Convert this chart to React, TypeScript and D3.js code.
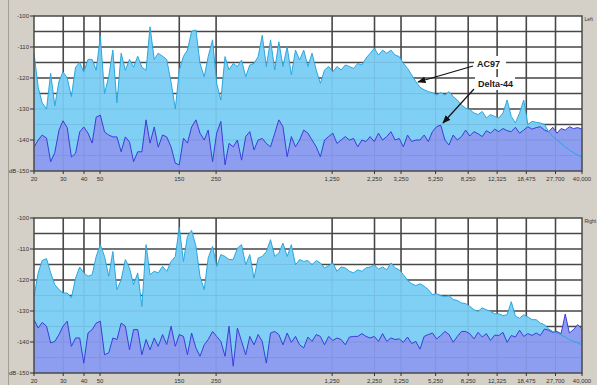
import React from 'react';
import * as d3 from 'd3';

const FREQS = [
  20, 21.2, 22.4, 23.8, 25.2, 26.7, 28.3, 29.9, 31.7, 33.6, 35.6, 37.7, 39.9, 42.3, 44.8, 47.4, 50.2, 53.2, 56.4, 59.7,
  63.2, 67.0, 71.0, 75.2, 79.6, 84.3, 89.3, 94.6, 100, 106, 112, 119, 126, 134, 142, 150, 159, 168, 178, 189,
  200, 212, 224, 238, 252, 267, 283, 299, 317, 336, 356, 377, 399, 423, 448, 474, 502, 532, 564, 597,
  632, 670, 710, 752, 796, 843, 893, 946, 1002, 1062, 1125, 1191, 1262, 1337, 1416, 1500, 1589, 1683, 1783, 1888,
  2000, 2119, 2244, 2377, 2518, 2667, 2825, 2993, 3170, 3358, 3557, 3768, 3991, 4228, 4479, 4744, 5024, 5323, 5638, 5972,
  6325, 6700, 7098, 7519, 7962, 8434, 8934, 9463, 10024, 10619, 11247, 11914, 12620, 13368, 14158, 14998, 15886, 16828, 17825, 18882,
  20000, 21185, 22441, 23771, 25179, 26671, 28251, 29926, 31698, 33577, 35567, 37677, 40000,
];

const TOP_AC97 = [
  -112, -123, -128, -130, -118.5, -129, -121, -118, -120, -126,
  -116.5, -115, -118, -114, -114, -117.5, -106.5, -125, -119.5, -111,
  -128, -112, -117.5, -114, -116.5, -113, -116.5, -117.5, -103.5, -114,
  -112, -113, -114, -121.5, -130, -117.5, -113, -111, -105, -104.5,
  -115.3, -119.6, -113.1, -107.7, -121.7, -127.1, -113.1, -117.4, -115.3, -116.3,
  -114.2, -119.6, -115.8, -115.3, -113.1, -106.2, -116.3, -107.7, -117.4, -108.3,
  -116.3, -109.9, -119, -111, -114.2, -111, -116.3, -112, -117.4, -121.7,
  -117.4, -116.3, -118, -116.3, -117.4, -115.8, -116.3, -116.9, -115.3, -115.8,
  -113.6, -112, -110.4, -112.6, -111, -112, -111, -112.6,
  -113.1, -115.3, -116.9, -119, -121.2, -123, -123.8, -124.4, -124.7, -125.5,
  -124.7, -125.5, -124.4, -126, -127.1, -128.7, -129.7, -130.2, -131.3, -131.8,
  -130.8, -132.9, -131.8, -132.4, -132.9, -131.3, -127.1, -132.4, -134.5, -131.3,
  -127.1, -135, -134, -134.3, -134.5, -135, -137.3, -138.9, -140, -141.1,
  -142.2, -143.2, -144.1, -144.8, -145.6,
];

const TOP_DELTA = [
  -142.3, -140, -138.4, -139.4, -147, -144, -136.8, -133.8, -136, -145.5,
  -144.3, -137.4, -135.8, -137.8, -141, -132.6, -132, -137.4, -138.4, -139,
  -139, -143.8, -139, -140.6, -147, -143.8, -143.8, -133.5, -141, -135.8,
  -142.3, -138.4, -139, -142.3, -147.5, -148, -139.4, -141, -135.8, -133.5,
  -137.8, -140, -136.8, -147, -137.8, -134, -148, -141.1, -142.2, -140,
  -146.5, -138.9, -137.3, -143.2, -140, -139.5, -141.1, -142.2, -137.8, -133.5,
  -135.7, -145.4, -138.9, -142.2, -140, -136.8, -137.8, -140, -142.2, -145.4,
  -140, -138.9, -137.8, -141.1, -140, -138.9, -140, -139.5, -142.2, -140,
  -140.5, -138.9, -140.5, -137.8, -140, -138.9, -137.3, -140,
  -139.5, -142.2, -138.4, -140.5, -140, -140, -138.4, -140.5, -137.3, -135.7,
  -135.2, -140, -141.6, -138.4, -140, -138.9, -136.8, -138.7, -137.3, -138,
  -138.9, -137, -137.8, -136.5, -137.3, -136.3, -137, -137.3, -135.9, -137.8,
  -136.8, -135.7, -136.5, -136, -135.7, -136.8, -137.3, -135.9, -137.8, -136.3,
  -136.8, -135.7, -136.3, -136, -136.5,
];

const BOT_AC97 = [
  -125.3, -117.7, -113.7, -113.1, -117.7, -121.5, -123.1, -124.2, -124.2, -125.8,
  -119.4, -115.8, -117.7, -118.8, -118.3, -112.4, -108.6, -112.4, -118.8, -110.8,
  -123.1, -119.9, -113.4, -116.1, -121.5, -117.7, -128.5, -108.6, -118.3, -117.2,
  -117.7, -115.6, -117.2, -114, -112.4, -103, -114, -105.9, -104, -109.1,
  -118.8, -123.1, -112.9, -109.1, -115.6, -111.8, -112.4, -113.4, -113.4, -109.7,
  -108.6, -115.1, -111.8, -119.4, -112.9, -112.4, -110.8, -107, -112.4, -111.3,
  -108.1, -112.4, -108.6, -115.1, -113.4, -114, -113.7, -115.1, -113.7, -114.5,
  -116.1, -115.4, -114.5, -117.2, -115.8, -116.1, -117.2, -117.7, -116.7, -117.2,
  -116.1, -115.8, -115.1, -116.5, -115.8, -116.7, -114.5, -116.1,
  -116.7, -118.3, -120.1, -121.2, -121.8, -121.2, -122, -123.1, -124.7, -124.4,
  -125.1, -125.3, -125.1, -126.3, -126.6, -127.4, -127.6, -128.5, -129.6, -130.1,
  -129, -129.6, -130.1, -130.9, -130.9, -131.5, -131.2, -127, -131.7, -132.3,
  -131.2, -131.9, -132.8, -132.8, -133.9, -134.4, -135.8, -136.6, -137.1, -137.7,
  -138.4, -139.2, -139.8, -140.3, -140.9,
];

const BOT_DELTA = [
  -132.8, -135.5, -133.7, -134.9, -140.3, -139.8, -137.6, -134.9, -133.3, -141.4,
  -138.7, -138.7, -146.8, -137.1, -136, -133.9, -133.3, -144.1, -143.5, -138.7,
  -139.2, -133.9, -134.9, -142.5, -136, -136, -144.1, -139.2, -142.5, -138.7,
  -141.4, -137.6, -140.8, -134.9, -141.4, -137.6, -138.2, -144.1, -137.1, -141.9,
  -144.6, -140.9, -139.2, -136.6, -138.2, -139.8, -144.6, -134.9, -147.8, -135.5,
  -139.8, -144.1, -138.2, -140.9, -137.6, -139.8, -146.8, -137.1, -136.6, -137.6,
  -140.9, -137.1, -140.1, -138.2, -140.9, -141.9, -138.4, -139.8, -137.6, -138.2,
  -140.9, -138.2, -139.5, -138.7, -139.2, -140.9, -138.4, -138.2, -138.2, -137.3,
  -138.2, -138.7, -138.2, -139.8, -137.3, -139.8, -138.7, -139.2,
  -139, -140.1, -138.4, -140.5, -139.8, -142.3, -138.2, -137.6, -137.1, -139,
  -137.9, -136.6, -137.6, -140.1, -138.2, -136.6, -136.6, -137.3, -139, -136.9,
  -138.4, -137.3, -139.5, -137.8, -137.9, -136.9, -140.1, -137.9, -138.4, -136.2,
  -138.2, -137.3, -137.9, -137.1, -137.9, -135.8, -136.2, -136.9, -136.6, -137.3,
  -131, -137.1, -136, -134.4, -135.8,
];

const X_TICKS = [20, 30, 40, 50, 150, 250, 1250, 2250, 3250, 5250, 8250, 12325, 18475, 27700, 40000];
const Y_TICKS = [-100, -110, -120, -130, -140, -150];
const GRID_DB = [-105, -110, -115, -120, -125, -130, -135, -140, -145];
const CHANNELS = ['Left', 'Right'];
const SERIES_NAMES = ['AC97', 'Delta-44'];

const W = 597;
const H = 385;
const PLOT_L = 34;
const PLOT_R = 582;

const PANELS = [
  { top: 16, bottom: 171, ac97: TOP_AC97, delta: TOP_DELTA, name: CHANNELS[0] },
  { top: 218, bottom: 373, ac97: BOT_AC97, delta: BOT_DELTA, name: CHANNELS[1] },
];

const fmt = d3.format(',');

function Panel({ p, idx, x }: { p: any; idx: number; x: d3.ScaleLogarithmic<number, number> }) {
  const y = d3.scaleLinear().domain([-150, -100]).range([p.bottom, p.top]);
  const area = d3
    .area<number>()
    .x((_, i) => x(FREQS[i]))
    .y0(p.bottom)
    .y1((d) => y(d));
  const line = d3
    .line<number>()
    .x((_, i) => x(FREQS[i]))
    .y((d) => y(d));
  const clipId = `clip-${idx}`;
  const innerX = X_TICKS.slice(1, -1);
  const grid = (stroke: string, width: number, opacity: number) => (
    <g stroke={stroke} strokeWidth={width} opacity={opacity}>
      {GRID_DB.map((d) => (
        <line key={'h' + d} x1={PLOT_L} x2={PLOT_R} y1={y(d)} y2={y(d)} />
      ))}
      {innerX.map((f) => (
        <line key={'v' + f} x1={x(f)} x2={x(f)} y1={p.top} y2={p.bottom} />
      ))}
    </g>
  );
  return (
    <g>
      <defs>
        <clipPath id={clipId}>
          <rect x={PLOT_L} y={p.top} width={PLOT_R - PLOT_L} height={p.bottom - p.top} />
        </clipPath>
      </defs>
      <rect x={PLOT_L} y={p.top} width={PLOT_R - PLOT_L} height={p.bottom - p.top} fill="#ffffff" />
      {grid('#4d4d4d', 1.6, 1)}
      <g clipPath={`url(#${clipId})`}>
        <path d={area(p.ac97) || ''} fill="#80cff5" />
        <path d={area(p.delta) || ''} fill="#8d9ef0" />
        {grid('#000000', 1, 0.07)}
        <path d={line(p.delta) || ''} fill="none" stroke="#3b3dd8" strokeWidth={1} />
        <path d={line(p.ac97) || ''} fill="none" stroke="#2aa7dd" strokeWidth={1} />
      </g>
      <rect
        x={PLOT_L}
        y={p.top}
        width={PLOT_R - PLOT_L}
        height={p.bottom - p.top}
        fill="none"
        stroke="#4a4a4a"
        strokeWidth={1.5}
      />
      {Y_TICKS.map((d) => (
        <g key={'yt' + d}>
          <line x1={30} x2={PLOT_L} y1={y(d)} y2={y(d)} stroke="#333" strokeWidth={1} />
          <text x={29} y={y(d) + 2} fontSize={6} textAnchor="end" fill="#333">
            {d}
          </text>
        </g>
      ))}
      <text x={9} y={y(-150) + 2} fontSize={6} fill="#333">
        dB
      </text>
      {X_TICKS.map((f) => (
        <g key={'xt' + f}>
          <line x1={x(f)} x2={x(f)} y1={p.bottom} y2={p.bottom + 3} stroke="#333" strokeWidth={1} />
          <text x={x(f)} y={p.bottom + 10} fontSize={6} textAnchor="middle" fill="#333">
            {fmt(f)}
          </text>
        </g>
      ))}
      <text x={584.5} y={p.top + 5} fontSize={5} fill="#333">
        {p.name}
      </text>
    </g>
  );
}

export default function App() {
  const x = d3.scaleLog().domain([20, 40000]).range([PLOT_L, PLOT_R]);
  return (
    <svg
      width={W}
      height={H}
      style={{ position: 'absolute', left: 0, top: 0, display: 'block' }}
      fontFamily="'Liberation Sans', Arial, sans-serif"
    >
      <defs>
        <marker id="arrow" viewBox="0 0 10 10" refX="9" refY="5" markerWidth="7" markerHeight="7" orient="auto">
          <path d="M0,1 L10,5 L0,9 Z" fill="#111" />
        </marker>
      </defs>
      <rect width={W} height={H} fill="#d4d0c8" />
      <line x1={8.5} x2={8.5} y1={0} y2={H} stroke="#a29e96" strokeWidth={1} />
      {PANELS.map((p, i) => (
        <Panel key={p.name} p={p} idx={i} x={x} />
      ))}
      <g>
        <rect x={474} y={56} width={32} height={13} fill="#ffffff" />
        <rect x={475} y={77} width={40} height={13} fill="#ffffff" />
        <text x={477} y={66.5} fontSize={9} fontWeight="bold" fill="#1a1a1a">
          {SERIES_NAMES[0]}
        </text>
        <text x={478} y={87} fontSize={9} fontWeight="bold" fill="#1a1a1a">
          {SERIES_NAMES[1]}
        </text>
        <line x1={473} y1={66} x2={418} y2={82} stroke="#111" strokeWidth={1.2} markerEnd="url(#arrow)" />
        <line x1={474} y1={89} x2={443} y2={123} stroke="#111" strokeWidth={1.2} markerEnd="url(#arrow)" />
      </g>
    </svg>
  );
}
